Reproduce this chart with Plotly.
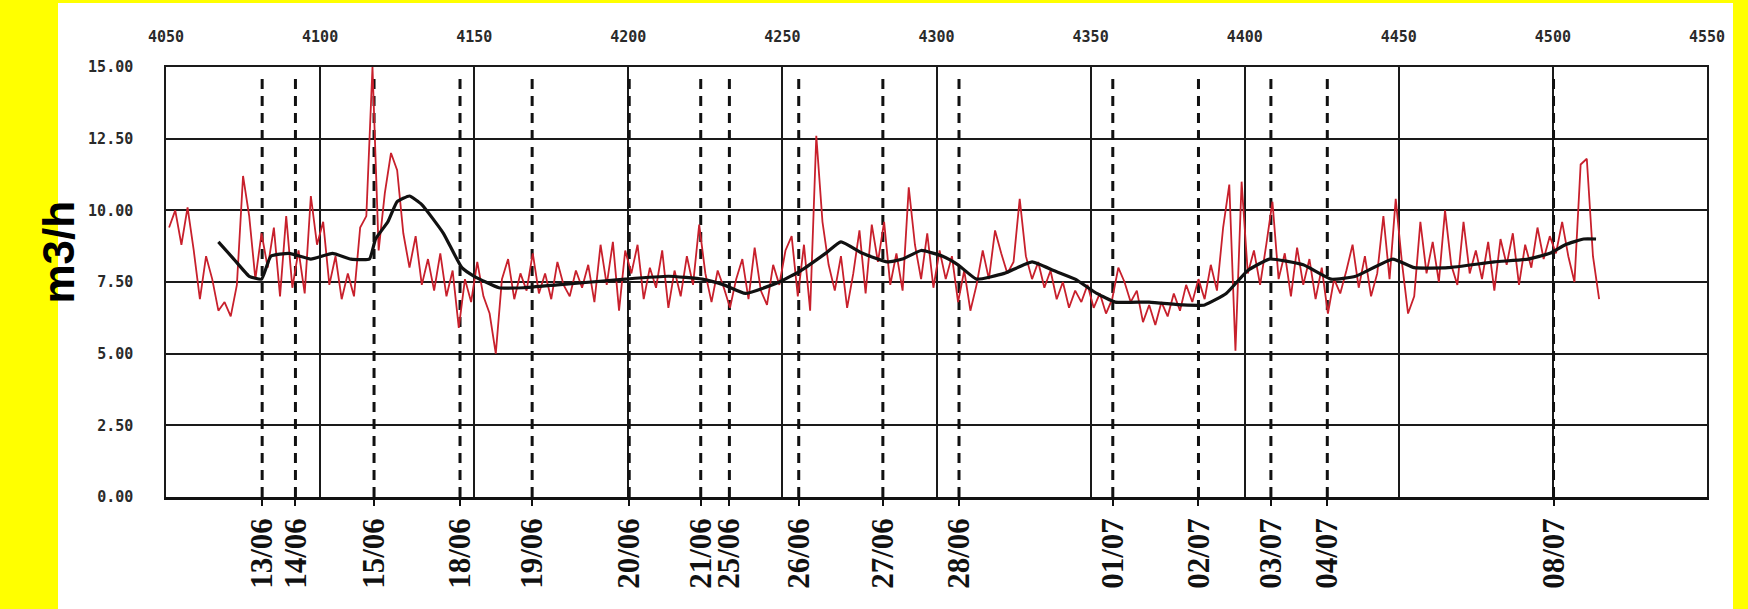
import plotly.graph_objects as go

# ---------------- data ----------------
red_start, red_step = 4051, 2
red_values = [
    9.4, 10.0, 8.8, 10.1, 8.6, 6.9, 8.4, 7.6, 6.5, 6.8,
    6.3, 7.4, 11.2, 9.8, 7.6, 9.2, 8.0, 9.4, 7.0, 9.8,
    7.3, 8.6, 7.1, 10.5, 8.8, 9.6, 7.4, 8.4, 6.9, 7.8,
    7.0, 9.4, 9.8, 15.0, 8.6, 10.6, 12.0, 11.4, 9.2, 8.0,
    9.1, 7.4, 8.3, 7.2, 8.5, 7.0, 7.9, 5.9, 7.6, 6.8,
    8.2, 7.0, 6.4, 5.0, 7.6, 8.3, 6.9, 7.8, 7.2, 8.5,
    7.1, 7.8, 6.9, 8.2, 7.4, 7.0, 7.9, 7.3, 8.1, 6.8,
    8.8, 7.4, 8.9, 6.5, 8.6, 7.8, 8.8, 6.9, 8.0, 7.3,
    8.6, 6.6, 7.9, 7.0, 8.4, 7.4, 9.5, 7.8, 6.8, 7.9,
    7.3, 6.6, 7.6, 8.3, 6.9, 8.7, 7.2, 6.7, 8.1, 7.4,
    8.6, 9.1, 7.0, 8.8, 6.5, 12.6, 9.6, 8.1, 7.2, 8.4,
    6.6, 7.8, 9.3, 7.1, 9.5, 8.2, 9.6, 7.4, 8.5, 7.2,
    10.8, 8.8, 7.6, 9.2, 7.3, 8.6, 7.6, 8.4, 6.8, 7.9,
    6.5, 7.4, 8.6, 7.6, 9.3, 8.5, 7.8, 8.2, 10.4, 8.4,
    7.6, 8.2, 7.3, 7.9, 6.9, 7.5, 6.6, 7.2, 6.8, 7.4,
    6.6, 7.1, 6.4, 6.9, 8.0, 7.5, 6.8, 7.2, 6.1, 6.7,
    6.0, 6.8, 6.3, 7.1, 6.5, 7.4, 6.8, 7.6, 6.9, 8.1,
    7.2, 9.4, 10.9, 5.1, 11.0, 7.8, 8.6, 7.4, 8.8, 10.3,
    7.6, 8.5, 7.0, 8.7, 7.4, 8.3, 6.9, 8.0, 6.4, 7.6,
    7.1, 7.9, 8.8, 7.3, 8.4, 7.0, 7.8, 9.8, 7.6, 10.4,
    8.2, 6.4, 7.0, 9.6, 7.8, 8.9, 7.5, 10.0, 8.1, 7.4,
    9.6, 7.8, 8.6, 7.6, 8.9, 7.2, 9.0, 8.1, 9.2, 7.4,
    8.8, 8.0, 9.4, 8.3, 9.1, 8.5, 9.6, 8.4, 7.5, 11.6,
    11.8, 8.4, 6.9,
]
red_x = [red_start + i * red_step for i in range(len(red_values))]

avg_x = [4067, 4072, 4077, 4081, 4084, 4090, 4097, 4104, 4110, 4116,
         4118, 4122, 4125, 4129, 4133, 4140, 4146, 4150, 4158, 4166,
         4177, 4188, 4199, 4213, 4224, 4231, 4238, 4249, 4256, 4264,
         4269, 4276, 4284, 4289, 4295, 4302, 4307, 4313, 4322, 4331,
         4338, 4345, 4352, 4358, 4369, 4380, 4387, 4394, 4401, 4408,
         4419, 4428, 4436, 4448, 4455, 4466, 4481, 4492, 4499, 4504,
         4510, 4514]
avg_values = [8.9, 8.3, 7.7, 7.6, 8.4, 8.5, 8.3, 8.5, 8.3, 8.3,
              9.0, 9.6, 10.3, 10.5, 10.2, 9.2, 8.0, 7.7, 7.3, 7.3,
              7.4, 7.5, 7.6, 7.7, 7.6, 7.4, 7.1, 7.5, 7.9, 8.5,
              8.9, 8.5, 8.2, 8.3, 8.6, 8.4, 8.1, 7.6, 7.8, 8.2,
              7.9, 7.6, 7.1, 6.8, 6.8, 6.7, 6.7, 7.1, 7.9, 8.3,
              8.1, 7.6, 7.7, 8.3, 8.0, 8.0, 8.2, 8.3, 8.5, 8.8,
              9.0, 9.0]

date_pos = [4081.2, 4092.0, 4117.5, 4145.4, 4168.8, 4200.3, 4223.5, 4232.8,
            4255.3, 4282.6, 4307.3, 4357.2, 4385.0, 4408.5, 4426.8, 4500.2]
date_labels = ["13/06", "14/06", "15/06", "18/06", "19/06", "20/06", "21/06", "25/06",
               "26/06", "27/06", "28/06", "01/07", "02/07", "03/07", "04/07", "08/07"]

top_ticks = [4050, 4100, 4150, 4200, 4250, 4300, 4350, 4400, 4450, 4500, 4550]
y_ticks = [0, 2.5, 5, 7.5, 10, 12.5, 15]
y_title = "m3/h"

# ---------------- layout geometry (pixels) ----------------
W, H = 1748, 609
L, R, T, B = 166, 1707, 67, 497
pw, ph = R - L, B - T


def px_to_paper_x(px):
    return (px - L) / pw


def px_to_paper_y(py):
    return (B - py) / ph


fig = go.Figure()

# dashed event lines
dx, dy = [], []
for p in date_pos:
    dx += [p, p, None]
    dy += [0, 14.8, None]
fig.add_trace(go.Scatter(x=dx, y=dy, mode="lines", xaxis="x", yaxis="y",
                         line=dict(color="#111111", width=3, dash="10px,7px"),
                         hoverinfo="skip", showlegend=False))

fig.add_trace(go.Scatter(x=red_x, y=red_values, mode="lines", xaxis="x2", yaxis="y",
                         line=dict(color="#c8202c", width=1.8), showlegend=False))
fig.add_trace(go.Scatter(x=avg_x, y=avg_values, mode="lines", xaxis="x2", yaxis="y",
                         line=dict(color="#111111", width=3.2, shape="spline", smoothing=0.4),
                         showlegend=False))

fig.update_layout(
    width=W, height=H,
    margin=dict(l=L, r=W - R, t=T, b=H - B, autoexpand=False),
    paper_bgcolor="#ffff00",
    plot_bgcolor="white",
    showlegend=False,
    xaxis=dict(
        range=[4050, 4550], tickmode="array", tickvals=date_pos, ticktext=date_labels,
        tickangle=-90, ticks="outside", ticklen=6, tickwidth=2, tickcolor="#111",
        tickfont=dict(family="Liberation Serif", size=31, color="#111111", weight="bold"),
        showgrid=False, zeroline=False, showline=True, linecolor="#111", linewidth=2.5,
        mirror=False, fixedrange=True,
    ),
    xaxis2=dict(
        range=[4050, 4550], overlaying="x", side="top", tickmode="array",
        tickvals=top_ticks, ticktext=[str(t) for t in top_ticks],
        tickfont=dict(family="DejaVu Sans Mono", size=15, color="#2a2a2a", weight="bold"),
        ticks="", ticklabelstandoff=17,
        showgrid=True, gridcolor="#1a1a1a", gridwidth=1.5, zeroline=False,
        showline=True, linecolor="#1a1a1a", linewidth=1.5,
    ),
    yaxis=dict(
        range=[0, 15], tickmode="array", tickvals=y_ticks,
        ticktext=["%.2f" % v for v in y_ticks],
        tickfont=dict(family="DejaVu Sans Mono", size=15, color="#2a2a2a", weight="bold"),
        ticks="", ticklabelstandoff=28,
        showgrid=True, gridcolor="#1a1a1a", gridwidth=1.5, zeroline=False,
        showline=True, linecolor="#1a1a1a", linewidth=1.5, mirror=True,
    ),
    shapes=[dict(type="rect", xref="paper", yref="paper", layer="below",
                 x0=px_to_paper_x(58), x1=px_to_paper_x(1733),
                 y0=px_to_paper_y(609), y1=px_to_paper_y(3),
                 fillcolor="white", line=dict(width=0))],
    annotations=[dict(text=y_title, xref="paper", yref="paper",
                      x=px_to_paper_x(31), y=px_to_paper_y(252),
                      textangle=-90, showarrow=False,
                      font=dict(family="Liberation Sans", size=44, color="black", weight="bold"))],
)

fig.write_html(
    "out.html",
    config={"displayModeBar": False},
    post_script="document.body.style.margin='0';document.body.style.padding='0';"
                "document.body.style.overflow='hidden';",
)
